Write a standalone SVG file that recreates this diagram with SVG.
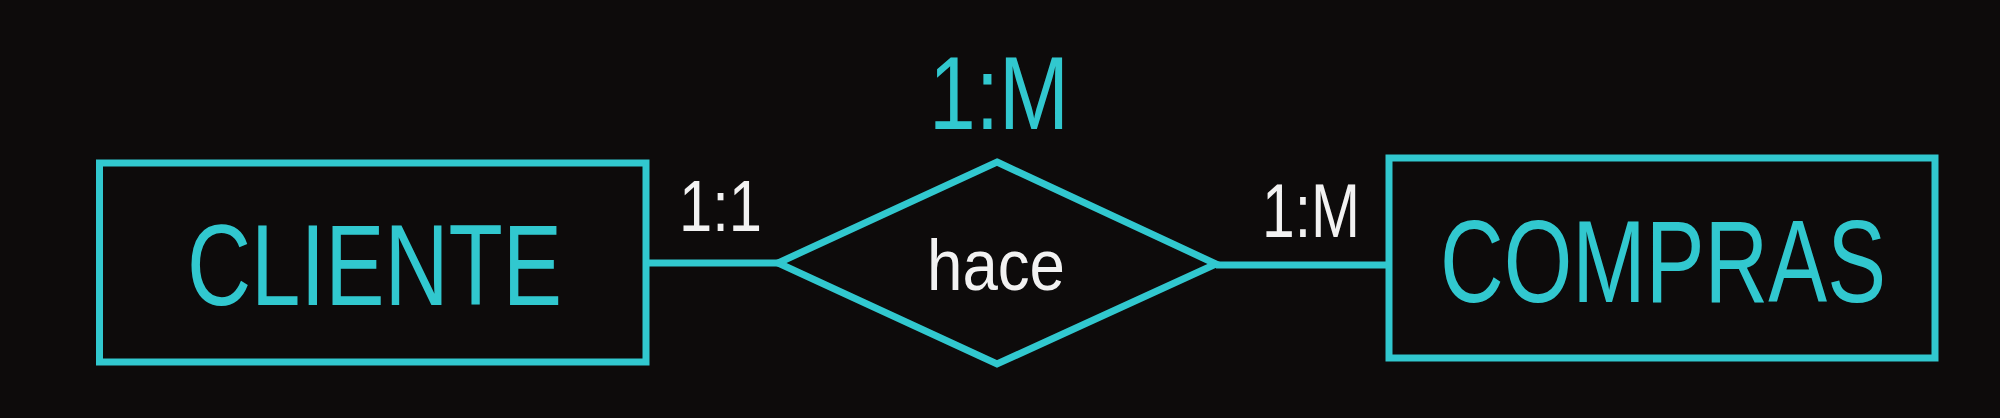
<svg xmlns="http://www.w3.org/2000/svg" width="2000" height="418" viewBox="0 0 2000 418">
<style>
.shape{fill:none;stroke:#31c8cf;stroke-width:7}
.cy{fill:#31c8cf;font-family:"Liberation Sans","Open Sans",sans-serif}
.wh{fill:#f2f2f2;font-family:"Liberation Sans","Open Sans",sans-serif}
</style>
<rect x="0" y="0" width="2000" height="418" fill="#0d0b0b"/>
<g id="connectors">
<line class="shape" x1="646" y1="263" x2="778" y2="263"/>
<line class="shape" x1="1216" y1="265" x2="1389" y2="265"/>
</g>
<g id="cliente">
<rect class="shape" x="99.5" y="163" width="546.5" height="199"/>
<text class="cy" x="187" y="305" font-size="115" textLength="375" lengthAdjust="spacingAndGlyphs">CLIENTE</text>
</g>
<g id="hace">
<polygon class="shape" points="997,162 1216,264 997,364 778,263"/>
<text class="wh" x="927" y="290" font-size="72" textLength="138" lengthAdjust="spacingAndGlyphs">hace</text>
</g>
<g id="compras">
<rect class="shape" x="1389" y="158" width="546" height="200"/>
<text class="cy" x="1440" y="302" font-size="117" textLength="446" lengthAdjust="spacingAndGlyphs">COMPRAS</text>
</g>
<g id="labels">
<text class="cy" x="929" y="129" font-size="104" textLength="140" lengthAdjust="spacingAndGlyphs">1:M</text>
<text class="wh" x="679" y="231" font-size="72" textLength="83" lengthAdjust="spacingAndGlyphs">1:1</text>
<text class="wh" x="1262" y="237" font-size="76" textLength="98" lengthAdjust="spacingAndGlyphs">1:M</text>
</g>
</svg>
